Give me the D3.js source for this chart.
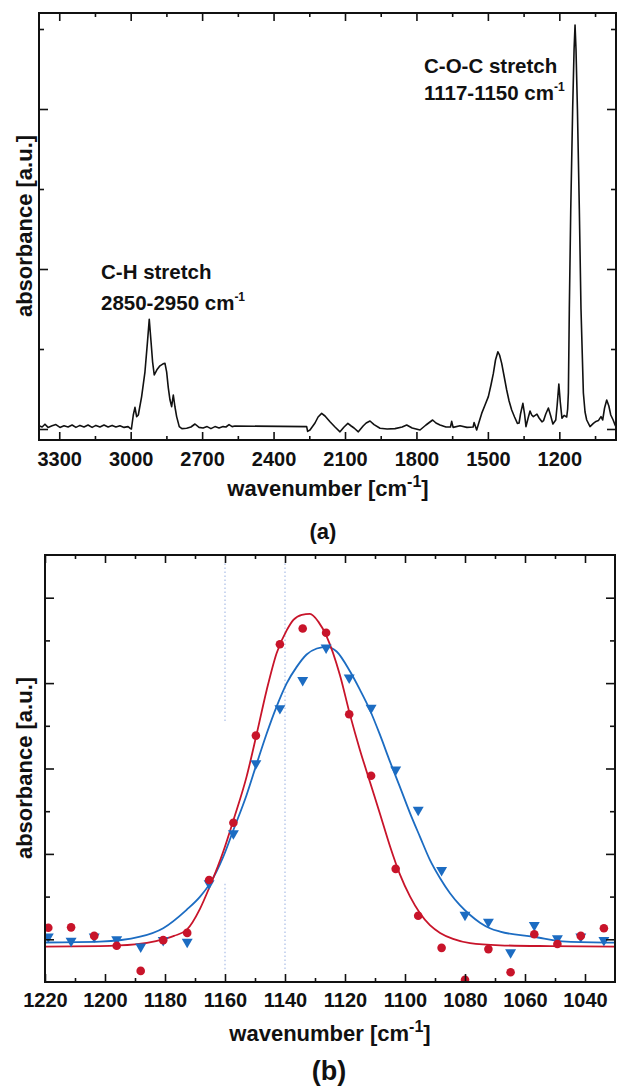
<!DOCTYPE html>
<html>
<head>
<meta charset="utf-8">
<script src="https://cdn.jsdelivr.net/npm/d3@7"></script>
<style>
body { margin: 0; background: #fff; }
text { font-family: "Liberation Sans", Arial, sans-serif; font-weight: bold; fill: #111; }
</style>
</head>
<body>
<svg id="chart" width="618" height="1091"></svg>
<script>
// (a) full spectrum: [wavenumber, absorbance]
var spectrum = [
  [3385,0.008],[3372,0.005],[3360,0.012],[3347,0.004],[3330,0.008],[3314,0.011],[3297,0.004],[3280,0.008],
  [3263,0.005],[3246,0.010],[3230,0.004],[3213,0.009],[3196,0.005],[3179,0.010],[3162,0.004],[3146,0.009],
  [3129,0.005],[3112,0.010],[3095,0.005],[3078,0.009],[3062,0.005],[3045,0.008],[3028,0.004],[3011,0.006],
  [3003,0.002],[2997,0.0],[2989,0.035],[2982,0.054],[2975,0.031],[2968,0.035],[2954,0.081],[2940,0.143],
  [2930,0.214],[2922,0.274],[2915,0.222],[2908,0.168],[2901,0.135],[2890,0.148],[2877,0.158],[2864,0.163],
  [2856,0.164],[2849,0.143],[2842,0.103],[2835,0.073],[2828,0.056],[2821,0.085],[2814,0.055],[2807,0.031],
  [2796,0.006],[2785,0.001],[2765,0.002],[2747,0.005],[2730,0.0125],[2713,0.004],[2696,0.0025],[2679,0.006],
  [2663,0.001],[2646,0.006],[2629,0.0025],[2612,0.006],[2600,0.005],[2587,0.011],[2574,0.006],[2562,0.0075],
  [2261,0.006],[2257,-0.006],[2247,-0.0025],[2226,0.015],[2213,0.030],[2198,0.039],[2184,0.0325],[2163,0.018],
  [2142,0.005],[2121,-0.007],[2104,0.005],[2088,0.014],[2074,0.0075],[2062,0.0025],[2044,-0.007],[2024,0.0075],
  [2011,0.015],[1995,0.020],[1978,0.011],[1953,0.002],[1923,0.0],[1890,0.001],[1860,0.005],[1841,0.010],
  [1818,0.0025],[1785,-0.0025],[1760,0.010],[1732,0.0225],[1718,0.015],[1701,0.010],[1676,0.005],[1657,0.005],
  [1652,0.019],[1646,0.004],[1617,0.008],[1588,0.004],[1562,0.005],[1558,0.016],[1547,-0.0025],[1537,0.0175],
  [1526,0.039],[1512,0.060],[1498,0.081],[1487,0.110],[1477,0.139],[1468,0.1725],[1458,0.193],[1451,0.185],
  [1442,0.164],[1432,0.1325],[1421,0.0975],[1411,0.070],[1400,0.0475],[1388,0.030],[1376,0.014],[1369,0.015],
  [1363,0.0375],[1353,0.064],[1346,0.0375],[1340,0.006],[1331,0.0275],[1323,0.045],[1316,0.035],[1309,0.031],
  [1294,0.037],[1285,0.0275],[1273,0.018],[1266,0.021],[1257,0.0375],[1246,0.0525],[1236,0.0325],[1227,0.0125],
  [1215,0.0225],[1209,0.060],[1202,0.1125],[1196,0.0675],[1189,0.027],[1180,0.034],[1169,0.03],[1165,0.05],
  [1162,0.09],[1158,0.30],[1152,0.55],[1144,0.80],[1138,0.95],[1134,1.01],[1130,0.95],[1124,0.80],
  [1116,0.55],[1109,0.30],[1099,0.09],[1092,0.0425],[1085,0.0225],[1071,0.006],[1057,0.014],[1046,0.019],
  [1036,0.021],[1025,0.031],[1018,0.0225],[1010,0.0525],[1001,0.0725],[992,0.0575],[984,0.035],[974,0.0225],
  [966,0.010],[962,0.005]
];
var topTicks = [3300,3000,2700,2400,2100,1800,1500,1200];
var topMinor = [3150,2850,2550,2250,1950,1650,1350,1050];
var topYMajor = [0,0.4,0.8];
var topYMinor = [0.2,0.6,1.0];

// (b) C-O-C band: measured points and fitted curves
var redPts = [
  [1218.9,0.027],[1211.3,0.028],[1203.6,0.008],[1196.1,-0.015],[1188.1,-0.074],[1180.6,-0.002],[1172.6,0.015],
  [1165.3,0.139],[1157.2,0.273],[1149.7,0.477],[1141.7,0.691],[1134.1,0.728],[1126.3,0.718],[1118.6,0.527],
  [1111.3,0.383],[1103.1,0.165],[1095.6,0.055],[1087.8,-0.020],[1080.0,-0.095],[1072.2,-0.023],[1064.8,-0.077],
  [1056.9,0.012],[1049.2,-0.011],[1041.4,0.008],[1033.7,0.026]
];
var bluePts = [
  [1218.9,0.006],[1211.3,-0.004],[1203.6,0.006],[1196.1,0.0],[1188.1,-0.017],[1180.6,-0.002],[1172.6,-0.006],
  [1165.3,0.131],[1157.2,0.248],[1149.7,0.412],[1141.7,0.541],[1134.1,0.607],[1126.3,0.683],[1118.6,0.613],
  [1111.3,0.542],[1103.1,0.397],[1095.6,0.303],[1087.8,0.162],[1080.0,0.057],[1072.2,0.041],[1064.8,-0.031],
  [1056.9,0.033],[1049.2,0.002],[1041.4,0.006],[1033.7,-0.002]
];
var redFit = [
  [1220,-0.017],[1201.7,-0.016],[1190,-0.012],[1183,-0.004],[1177,0.008],[1172.8,0.022],[1168.3,0.072],[1165,0.125],
  [1160.6,0.205],[1157.2,0.279],[1152.8,0.381],[1149.4,0.482],[1146.1,0.584],[1142.8,0.670],[1139.4,0.724],
  [1137.2,0.748],[1134.4,0.760],[1131.7,0.762],[1128.9,0.744],[1126.1,0.709],[1121.7,0.619],[1118.3,0.525],
  [1115,0.443],[1111.7,0.369],[1108.3,0.293],[1105,0.218],[1101.7,0.152],[1098.3,0.100],[1095,0.061],
  [1091.7,0.033],[1088.3,0.015],[1084,0.001],[1078.3,-0.009],[1068.3,-0.014],[1051.7,-0.016],[1030,-0.017]
];
var blueFit = [
  [1220,-0.0075],[1201.7,-0.0056],[1188.3,0.006],[1180.6,0.026],[1172.8,0.069],[1168.3,0.100],[1165,0.131],
  [1160.6,0.193],[1157.2,0.256],[1152.8,0.338],[1149.4,0.412],[1146.1,0.482],[1142.8,0.545],[1139.4,0.600],
  [1136.1,0.638],[1132.8,0.667],[1129.4,0.681],[1126.1,0.685],[1122.8,0.674],[1118.3,0.627],[1115,0.584],
  [1111.7,0.537],[1108.3,0.478],[1105,0.416],[1101.7,0.357],[1098.3,0.295],[1095,0.240],[1091.7,0.186],
  [1088.3,0.143],[1085,0.108],[1081.7,0.080],[1078.3,0.057],[1075,0.039],[1071.7,0.026],[1068.3,0.018],
  [1057.2,0.006],[1046.1,-0.0056],[1030,-0.008]
];
// dotted guide lines: [wavenumber, from, to] (absorbance units)
var markLines = [[1160,0.88,0.51],[1160,0.13,-0.072],[1140,0.88,-0.072]];
var botTicks = [1220,1200,1180,1160,1140,1120,1100,1080,1060,1040];
var botMinor = [1210,1190,1170,1150,1130,1110,1090,1070,1050];
var botYMajor = [0,0.2,0.4,0.6,0.8];
var botYMinor = [0.1,0.3,0.5,0.7];

var red = '#c8142a', blue = '#1c6cc2';
var svg = d3.select('#chart');

var frame = function(x,y,xMaj,xMin,yMaj,yMin,pad) {
  var x0 = x.range()[0], x1 = x.range()[1], y0 = y.range()[0], y1 = y.range()[1];
  var g = svg.append('g');
  // bottom / top x ticks
  g.append('g').attr('transform','translate(0,'+y0+')')
    .call(d3.axisBottom(x).tickValues(xMaj).tickFormat(d3.format('d')).tickSize(-8).tickSizeOuter(0).tickPadding(pad));
  g.append('g').attr('transform','translate(0,'+y0+')')
    .call(d3.axisBottom(x).tickValues(xMin).tickFormat('').tickSize(-4).tickSizeOuter(0));
  g.append('g').attr('transform','translate(0,'+y1+')')
    .call(d3.axisTop(x).tickValues(xMaj).tickFormat('').tickSize(-8).tickSizeOuter(0));
  g.append('g').attr('transform','translate(0,'+y1+')')
    .call(d3.axisTop(x).tickValues(xMin).tickFormat('').tickSize(-4).tickSizeOuter(0));
  // left / right y ticks
  g.append('g').attr('transform','translate('+x0+',0)')
    .call(d3.axisLeft(y).tickValues(yMaj).tickFormat('').tickSize(-9).tickSizeOuter(0));
  g.append('g').attr('transform','translate('+x0+',0)')
    .call(d3.axisLeft(y).tickValues(yMin).tickFormat('').tickSize(-5).tickSizeOuter(0));
  g.append('g').attr('transform','translate('+x1+',0)')
    .call(d3.axisRight(y).tickValues(yMaj).tickFormat('').tickSize(-9).tickSizeOuter(0));
  g.append('g').attr('transform','translate('+x1+',0)')
    .call(d3.axisRight(y).tickValues(yMin).tickFormat('').tickSize(-5).tickSizeOuter(0));
  g.selectAll('.domain').remove();
  g.selectAll('.tick line').attr('stroke','#111').attr('stroke-width',1.6);
  g.selectAll('.tick text').style('font-size','20px').attr('fill','#111');
  svg.append('rect').attr('x',x0).attr('y',y1).attr('width',x1-x0).attr('height',y0-y1)
    .attr('fill','none').attr('stroke','#111').attr('stroke-width',2);
};

var label = function(x,y,main,sup,size,supSize,rot) {
  var t = svg.append('text').attr('x',x).attr('y',y).style('font-size',size+'px');
  if (rot) t.attr('transform','rotate(-90,'+x+','+y+')').attr('text-anchor','middle');
  t.append('tspan').text(main);
  if (sup) t.append('tspan').text(sup).attr('dy',-size*0.42).style('font-size',supSize+'px');
  return t;
};

// ---- panel (a)
var xA = d3.scaleLinear().domain([3385,962]).range([39,616]);
var yA = d3.scaleLinear().domain([-0.0275,1.04]).range([440,13]);

svg.append('path').datum(spectrum)
  .attr('d', d3.line().x(function(d){return xA(d[0]);}).y(function(d){return yA(d[1]);}))
  .attr('fill','none').attr('stroke','#111').attr('stroke-width',1.6).attr('stroke-linejoin','round');

frame(xA,yA,topTicks,topMinor,topYMajor,topYMinor,12);

label(101,279,'C-H stretch',null,20.5);
label(101,310,'2850-2950 cm','-1',20.5,12);
label(424,73,'C-O-C stretch',null,20.5);
label(424,100,'1117-1150 cm','-1',20.5,12);
label(328,496,'wavenumber [cm','-1',22,16).attr('text-anchor','middle').append('tspan').text(']').attr('dy',22*0.42).style('font-size','22px');
label(32,226,'absorbance [a.u.]',null,22,0,true);
svg.append('text').attr('x',323).attr('y',539).attr('text-anchor','middle').style('font-size','22px').text('(a)');

// ---- panel (b)
var xB = d3.scaleLinear().domain([1220,1030]).range([45,615]);
var yB = d3.scaleLinear().domain([-0.1,0.9]).range([982,555]);

svg.append('clipPath').attr('id','clipB').append('rect')
  .attr('x',45).attr('y',555).attr('width',570).attr('height',427);
var gB = svg.append('g').attr('clip-path','url(#clipB)');

markLines.forEach(function(m) {
  gB.append('line').attr('x1',xB(m[0])).attr('x2',xB(m[0])).attr('y1',yB(m[1])).attr('y2',yB(m[2]))
    .attr('stroke','#a9bde6').attr('stroke-width',1.2).attr('stroke-dasharray','1.5,2.5');
});

var fitLine = d3.line().curve(d3.curveMonotoneX).x(function(d){return xB(d[0]);}).y(function(d){return yB(d[1]);});
gB.append('path').datum(blueFit).attr('d',fitLine).attr('fill','none').attr('stroke',blue).attr('stroke-width',1.8);
gB.append('path').datum(redFit).attr('d',fitLine).attr('fill','none').attr('stroke',red).attr('stroke-width',1.8);

gB.selectAll('path.tri').data(bluePts).enter().append('path').attr('class','tri')
  .attr('d', d3.symbol().type(d3.symbolTriangle).size(52))
  .attr('transform',function(d){return 'translate('+xB(d[0])+','+yB(d[1])+') rotate(180)';})
  .attr('fill',blue);
gB.selectAll('circle.dot').data(redPts).enter().append('circle').attr('class','dot')
  .attr('cx',function(d){return xB(d[0]);}).attr('cy',function(d){return yB(d[1]);})
  .attr('r',4.3).attr('fill',red);

frame(xB,yB,botTicks,botMinor,botYMajor,botYMinor,11);

label(330,1041,'wavenumber [cm','-1',22,16).attr('text-anchor','middle').append('tspan').text(']').attr('dy',22*0.42).style('font-size','22px');
label(32,768,'absorbance [a.u.]',null,22,0,true);
svg.append('text').attr('x',329).attr('y',1080).attr('text-anchor','middle').style('font-size','27px').text('(b)');
</script>
</body>
</html>
